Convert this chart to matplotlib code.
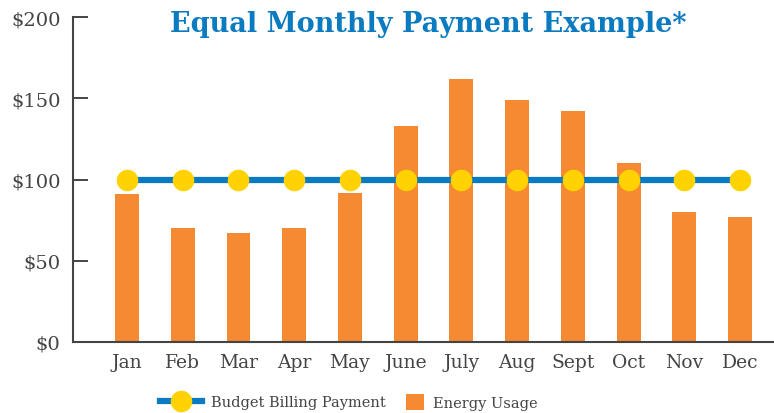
import matplotlib.pyplot as plt
import numpy as np

months = ["Jan", "Feb", "Mar", "Apr", "May", "June", "July", "Aug", "Sept", "Oct", "Nov", "Dec"]
energy_usage = [91, 70, 67, 70, 92, 133, 162, 149, 142, 110, 80, 77]
budget_payment = [100] * 12
y_ticks = [0, 50, 100, 150, 200]
y_labels = ["$0", "$50", "$100", "$150", "$200"]

orange = "#F58A32"
blue = "#0A7BC1"
yellow = "#FFD200"
grey = "#444444"

plt.rcParams["font.family"] = ["DejaVu Serif"]

fig = plt.figure(figsize=(7.74, 4.14), dpi=100)
ax = fig.add_axes([73 / 774, 1 - 343 / 414, 701 / 774, 325 / 414])

x = np.arange(len(months))
line, = ax.plot(x, budget_payment, color=blue, lw=4.5, marker="o", ms=14.5,
	mfc=yellow, mec=yellow, label="Budget Billing Payment", zorder=3)
bars = ax.bar(x, energy_usage, width=0.43, color=orange, label="Energy Usage", zorder=2)

ax.set_xlim(-0.97, 11.61)
ax.set_ylim(0, 200)
ax.set_xticks(x)
ax.set_xticklabels(months)
ax.set_yticks(y_ticks)
ax.set_yticklabels(y_labels)

for side in ["top", "right"]:
	ax.spines[side].set_visible(False)
for side in ["left", "bottom"]:
	ax.spines[side].set_color(grey)
	ax.spines[side].set_linewidth(1.5)

ax.tick_params(axis="y", direction="in", length=11, width=1.4, color=grey,
	labelcolor=grey, labelsize=14, pad=9)
ax.tick_params(axis="x", length=0, labelcolor=grey, labelsize=13.5, pad=8)

fig.text(428 / 774, 1 - 24 / 414, "Equal Monthly Payment Example*", color=blue,
	fontsize=19.5, fontweight="bold", ha="center", va="center")

# two legends so the line handle and the square can differ in length
leg1 = fig.legend([line], ["Budget Billing Payment"], loc="center left",
	frameon=False, bbox_to_anchor=(160 / 774, 1 - 403 / 414), fontsize=10.5,
	handlelength=2.9, labelcolor=grey, borderpad=0, borderaxespad=0,
	handletextpad=0.6)
leg2 = fig.legend([bars], ["Energy Usage"], loc="center left",
	frameon=False, bbox_to_anchor=(406 / 774, 1 - 403 / 414), fontsize=10.5,
	handlelength=1.25, handleheight=1.25, labelcolor=grey, borderpad=0,
	borderaxespad=0, handletextpad=0.6)

fig.savefig("out.png", dpi=100)
